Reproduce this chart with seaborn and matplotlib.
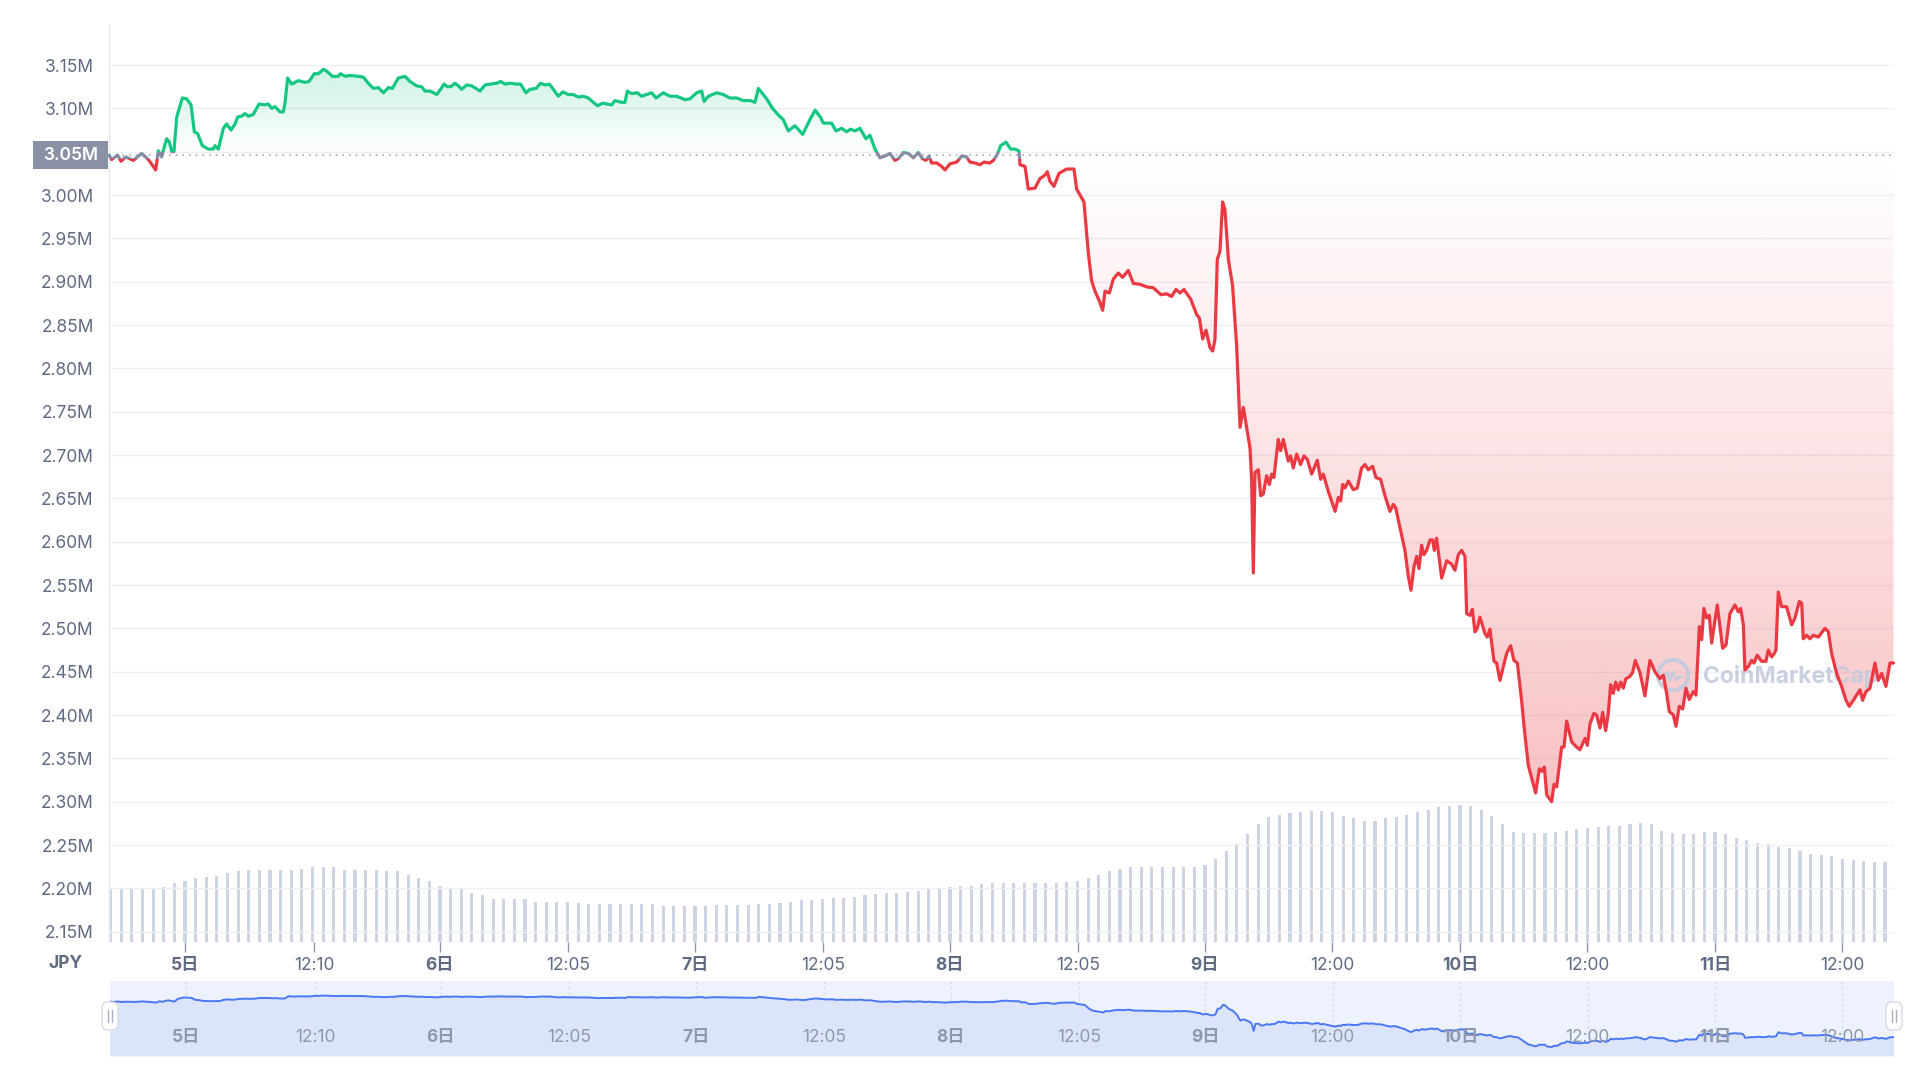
import numpy as np
import pandas as pd
import matplotlib
matplotlib.use("Agg")
import matplotlib.pyplot as plt
import seaborn as sns
import matplotlib.transforms as mtransforms
from matplotlib.path import Path
from matplotlib.patches import PathPatch, Rectangle, FancyBboxPatch, Circle
from matplotlib.colors import LinearSegmentedColormap
from matplotlib.lines import Line2D

# ---------------- data (hours since 5日 00:00, price in million JPY) ----------------
hours = [
    -7.15, -6.90, -6.34, -6.02, -5.58, -4.86, -4.08, -3.45, -2.76, -2.51, -2.20, -1.73, -1.47, -1.25,
    -1.04, -0.78, -0.25, 0.16, 0.57, 0.88, 1.19, 1.63, 2.20, 2.67, 2.82, 3.14, 3.61, 3.92, 4.33, 4.71,
    4.96, 5.33, 5.65, 5.96, 6.43, 6.97, 7.53, 7.84, 8.16, 8.47, 8.94, 9.26, 9.41, 9.66, 10.04, 10.67,
    11.29, 11.67, 12.17, 12.55, 13.02, 13.33, 13.87, 14.43, 14.62, 15.06, 15.53, 16.31, 16.79, 17.25,
    17.73, 18.20, 18.67, 19.14, 19.51, 20.08, 20.71, 21.18, 21.80, 22.28, 22.59,
    23.06, 23.37, 23.69, 24.00, 24.38, 24.69, 25.00, 25.41, 25.73, 26.04, 26.51, 26.98, 27.39, 27.76,
    28.24, 28.71, 29.33, 29.71, 30.12, 30.59, 31.22, 31.59, 32.09, 32.47, 33.04, 33.47, 33.88, 34.29,
    34.67, 35.14, 35.55, 36.08, 36.55, 37.02, 37.49, 37.96, 38.43, 38.84, 39.31, 39.75, 40.16, 40.47,
    41.10, 41.41, 41.63, 42.04, 42.57, 42.98, 43.45, 43.92, 44.33, 45.02, 45.65, 46.27, 47.06, 47.53,
    48.16, 48.63, 48.85, 49.26, 50.04, 50.67, 51.29, 51.92, 52.55, 53.18, 53.65, 53.96,
    54.30, 54.80, 55.30, 55.80,
    56.31, 56.78, 57.41, 58.13, 58.82, 59.30, 59.80, 60.08, 60.86, 61.27, 61.80, 62.27, 62.65, 63.06,
    63.53, 64.09, 64.47, 64.94, 65.41, 65.88, 66.35, 66.82, 67.14, 67.61, 68.08, 68.55, 69.02, 69.40,
    69.74, 70.02, 70.27, 70.75, 71.22, 71.53, 72.00, 72.63, 73.10, 73.57, 73.88, 74.35, 74.82, 75.20,
    75.76, 76.08, 76.46, 76.77, 77.27, 77.71, 78.12, 78.49, 78.59, 79.06, 79.37, 80.00, 80.47, 80.94,
    81.16, 81.41, 81.79, 82.26, 82.98, 83.67, 83.92, 84.61, 85.02, 85.33, 85.65, 86.12,
    86.37, 86.59, 87.00, 87.37, 87.84, 88.25, 88.78, 89.26, 89.88, 90.51, 91.14, 91.86, 92.39, 92.86,
    93.27, 93.65, 94.02, 94.65, 95.22, 95.47, 95.78, 96.10, 96.47, 96.72, 96.94, 97.16, 97.41, 97.66,
    97.88, 98.20, 98.60, 98.98, 99.30, 99.61, 100.24, 100.39, 100.55, 100.71, 101.02, 101.24, 101.49,
    101.80, 102.06, 102.27, 102.49, 102.90, 103.12, 103.37, 103.84, 104.06, 104.31, 104.63, 105.00,
    105.32, 105.63, 106.04, 106.57, 106.89, 107.14, 107.61, 108.24, 108.55, 108.77, 108.96, 109.18,
    109.49, 109.96, 110.34, 110.74, 111.06, 111.37, 111.78, 112.09, 112.53, 112.94, 113.41, 113.73,
    113.95, 114.25,
    114.82, 115.14, 115.39, 115.67, 115.92, 116.14, 116.39, 116.61, 116.86, 117.18, 117.43, 117.58,
    117.80, 118.28, 118.75, 119.22, 119.53, 119.84, 120.16, 120.47, 120.63, 120.94, 121.16, 121.41,
    121.63, 121.88, 122.35, 122.57, 122.82, 123.20, 123.45, 123.76, 124.08, 124.39, 124.77, 125.08,
    125.40, 125.80, 126.02, 126.43, 126.75, 127.12, 127.47, 127.69, 127.94, 128.16, 128.63, 128.85,
    129.10, 129.57, 129.79, 130.04, 130.51, 130.98, 131.29, 131.77, 131.99, 132.24, 132.61, 132.86,
    133.18, 133.43, 133.71, 133.96, 134.18, 134.43, 134.65, 134.90, 135.12, 135.37, 135.62, 135.94,
    136.25, 136.50, 136.94,
    137.41, 137.88, 138.35, 138.82, 139.14, 139.45, 139.70, 140.08, 140.33, 140.64, 140.96, 141.27,
    141.58, 141.96, 142.21, 142.53, 142.75, 142.96, 143.22, 143.47, 143.69, 143.91, 144.22, 144.47,
    144.72, 145.04, 145.41, 145.88, 146.20, 146.42, 146.67, 146.82, 147.14, 147.45, 147.67, 147.98,
    148.39, 148.80, 149.02, 149.33, 149.58, 149.74, 149.96, 150.27, 150.74, 151.22, 151.53, 151.94,
    152.16, 152.31, 152.63, 152.94, 153.26, 153.73, 154.04, 154.35, 154.67, 154.98, 155.45, 155.92,
    156.33, 156.64, 157.02, 157.65, 157.90, 158.21, 158.59, 159.06, 159.37, 159.69, 160.09, 160.47,
    160.80,
]

price = [
    3.046, 3.041, 3.046, 3.039, 3.044, 3.040, 3.048, 3.041, 3.029, 3.051, 3.044, 3.065, 3.061, 3.050,
    3.050, 3.090, 3.112, 3.111, 3.104, 3.073, 3.071, 3.057, 3.053, 3.053, 3.057, 3.053, 3.077, 3.082, 3.075, 3.082,
    3.090, 3.091, 3.094, 3.091, 3.093, 3.105, 3.104, 3.105, 3.100, 3.102, 3.096, 3.096, 3.106, 3.135, 3.128, 3.132,
    3.130, 3.131, 3.140, 3.140, 3.145, 3.143, 3.137, 3.137, 3.140, 3.137, 3.138, 3.137, 3.136, 3.129,
    3.123, 3.124, 3.118, 3.124, 3.123, 3.135, 3.137, 3.131, 3.126, 3.125, 3.120,
    3.120, 3.118, 3.116, 3.121, 3.128, 3.125, 3.125, 3.129, 3.126, 3.122, 3.127, 3.126, 3.123, 3.120,
    3.127, 3.128, 3.129, 3.131, 3.128, 3.129, 3.128, 3.128, 3.118, 3.122, 3.123, 3.129, 3.127, 3.128,
    3.122, 3.114, 3.119, 3.116, 3.116, 3.113, 3.114, 3.112, 3.107, 3.103, 3.106, 3.105, 3.104, 3.109,
    3.107, 3.107, 3.120, 3.117, 3.118, 3.114, 3.116, 3.118, 3.112, 3.118, 3.114, 3.114, 3.110, 3.111,
    3.118, 3.120, 3.108, 3.114, 3.118, 3.116, 3.112, 3.112, 3.109, 3.109, 3.107, 3.123,
    3.118, 3.110, 3.100, 3.093,
    3.087, 3.074, 3.080, 3.070, 3.087, 3.098, 3.090, 3.083, 3.083, 3.074, 3.077, 3.073, 3.076, 3.074,
    3.077, 3.065, 3.069, 3.053, 3.043, 3.045, 3.048, 3.040, 3.042, 3.049, 3.048, 3.043, 3.049, 3.042,
    3.040, 3.045, 3.037, 3.037, 3.033, 3.029, 3.036, 3.038, 3.045, 3.044, 3.038, 3.037, 3.035, 3.038,
    3.037, 3.040, 3.047, 3.057, 3.061, 3.053, 3.053, 3.051, 3.035, 3.033, 3.007, 3.008, 3.019, 3.023,
    3.027, 3.016, 3.010, 3.025, 3.030, 3.030, 3.007, 2.992, 2.933, 2.901, 2.889, 2.876,
    2.867, 2.889, 2.887, 2.903, 2.910, 2.905, 2.913, 2.898, 2.897, 2.894, 2.893, 2.885, 2.886, 2.883,
    2.891, 2.887, 2.891, 2.880, 2.862, 2.858, 2.834, 2.844, 2.824, 2.820, 2.833, 2.926, 2.935, 2.992,
    2.983, 2.926, 2.895, 2.826, 2.732, 2.755, 2.708, 2.672, 2.564, 2.680, 2.683, 2.653, 2.655,
    2.676, 2.666, 2.678, 2.674, 2.718, 2.705, 2.718, 2.693, 2.699, 2.685, 2.701, 2.689,
    2.699, 2.695, 2.678, 2.694, 2.672, 2.678, 2.658, 2.635, 2.651, 2.647, 2.666, 2.662,
    2.670, 2.660, 2.662, 2.685, 2.689, 2.683, 2.687, 2.674, 2.672, 2.653, 2.635, 2.643,
    2.639, 2.622,
    2.590, 2.560, 2.544, 2.571, 2.583, 2.569, 2.596, 2.585, 2.590, 2.602, 2.602, 2.590,
    2.604, 2.558, 2.578, 2.574, 2.567, 2.585, 2.590, 2.583, 2.517, 2.515, 2.522, 2.496,
    2.500, 2.513, 2.494, 2.490, 2.499, 2.462, 2.460, 2.440, 2.456, 2.471, 2.480, 2.463,
    2.460, 2.417, 2.388, 2.342, 2.327, 2.310, 2.338, 2.335, 2.340, 2.308, 2.300, 2.320,
    2.317, 2.363, 2.363, 2.393, 2.369, 2.363, 2.360, 2.373, 2.365, 2.390, 2.402, 2.400,
    2.385, 2.403, 2.382, 2.402, 2.435, 2.425, 2.438, 2.429, 2.438, 2.431, 2.442, 2.444,
    2.449, 2.463, 2.449,
    2.422, 2.463, 2.450, 2.442, 2.446, 2.425, 2.404, 2.400, 2.387, 2.410, 2.407, 2.431,
    2.418, 2.427, 2.423, 2.502, 2.487, 2.523, 2.512, 2.515, 2.483, 2.502, 2.527, 2.502,
    2.477, 2.481, 2.517, 2.527, 2.519, 2.523, 2.504, 2.452, 2.456, 2.463, 2.460, 2.469,
    2.462, 2.462, 2.475, 2.467, 2.471, 2.475, 2.542, 2.525, 2.525, 2.504, 2.512, 2.531,
    2.529, 2.488, 2.492, 2.488, 2.492, 2.490, 2.495, 2.500, 2.496, 2.471, 2.448, 2.433,
    2.417, 2.410, 2.417, 2.429, 2.417, 2.427, 2.431, 2.460, 2.440, 2.448, 2.433, 2.460,
    2.460,
]

# hourly 24h-volume (relative units)
vol_hours = list(range(-7, 161))
volume = [
    43, 43, 43, 43, 43, 45, 48, 50, 52, 53, 54, 56, 58,
    59, 59, 59, 59, 59, 60, 61, 61, 61, 59,
    59, 59, 59, 58, 58, 55, 52, 50, 46, 44, 43, 40, 38,
    35, 35, 35, 35, 33, 33, 33, 33, 32,
    31, 31, 31, 31, 31, 31, 31, 29, 29, 29, 29,
    29, 30, 30, 30, 30, 31, 31, 32, 33, 34, 34, 35,
    36, 36, 37, 38, 39, 40, 40, 41, 42, 43, 44, 45,
    46, 46, 47, 48, 48, 48, 48, 48, 48, 48, 49,
    50, 52, 55, 58, 60, 61, 61, 61, 61, 61, 61, 61, 63,
    68, 74, 80, 88, 96, 102, 104, 105, 106, 107, 107, 106,
    103, 101, 99, 99, 101, 102, 104, 106, 108, 110,
    111, 112, 111, 108, 103, 96, 90, 89, 89, 89, 90, 91,
    92, 93, 94, 95, 95, 96, 97, 96, 91, 89, 88, 88, 90, 90,
    88, 85, 83, 81, 80, 78, 77, 74, 72, 71, 70, 68, 67, 66, 65, 65,
]

tick_hours = [0, 12.17, 24, 36.08, 48, 60.08, 72, 84.08, 96, 108, 120, 132, 144, 156]
tick_labels = ["5日", "12:10", "6日", "12:05", "7日", "12:05", "8日", "12:05",
               "9日", "12:00", "10日", "12:00", "11日", "12:00"]
y_ticks = [2.15, 2.20, 2.25, 2.30, 2.35, 2.40, 2.45, 2.50, 2.55, 2.60, 2.65,
           2.70, 2.75, 2.80, 2.85, 2.90, 2.95, 3.00, 3.05, 3.10, 3.15]
current_label = "3.05M"

# ---------------- styling ----------------
sns.set_theme(style="white")
plt.rcParams["font.family"] = ["Inter", "Noto Sans CJK JP", "DejaVu Sans"]

GREEN = "#16c784"
RED = "#ea3943"
GRAY_LINE = "#858ca2"
TXT = "#5f6b82"
FS = 12.5

W, H = 1920, 1080
def fx(px):
    return px / W
def fy(py):
    return 1 - py / H

fig = plt.figure(figsize=(19.2, 10.8), dpi=100)
rect = [fx(109), fy(942), fx(1894) - fx(109), fy(25) - fy(942)]
ax_vol = fig.add_axes(rect)
ax = fig.add_axes(rect)
ax.patch.set_visible(False)

XMIN, XMAX = -7.153, 160.85
YMIN, YMAX = 2.1381, 3.1962

df = pd.DataFrame({"hour": hours, "price": price})
t = df["hour"].to_numpy()
p = df["price"].to_numpy()
base = p[0]

# volume bars
ax_vol.bar(vol_hours, volume, width=0.3, color="#cdd4e3", linewidth=0)
ax_vol.set_xlim(XMIN, XMAX)
ax_vol.set_ylim(0, 749)
ax_vol.axis("off")

# gradient fills
def gradient_fill(where, y0, y1, rgb, a_bottom, a_top, z):
    poly = ax.fill_between(t, p, base, where=where, interpolate=True,
                           facecolor="none", edgecolor="none", linewidth=0)
    paths = poly.get_paths()
    if not paths:
        return
    cp = Path.make_compound_path(*paths)
    clip = PathPatch(cp, transform=ax.transData, facecolor="none", edgecolor="none")
    ax.add_patch(clip)
    cmap = LinearSegmentedColormap.from_list(
        "g", [(*rgb, a_bottom), (*rgb, a_top)])
    grad = np.linspace(0, 1, 256).reshape(-1, 1)
    im = ax.imshow(grad, extent=[XMIN, XMAX, y0, y1], origin="lower",
                   cmap=cmap, aspect="auto", zorder=z, interpolation="bilinear")
    im.set_clip_path(clip)

gradient_fill(p >= base, base, p.max(), (22/255, 199/255, 132/255), 0.0, 0.21, 1)
gradient_fill(p <= base, p.min(), base, (234/255, 57/255, 67/255), 0.31, 0.0, 1)

# baseline dotted
ax.axhline(base, color="#a3aabb", lw=1.2, ls=(0, (1, 3)), zorder=2)

# price line coloured by side of baseline
eps = 0.004
bands = [(GREEN, base + eps, 10.0), (GRAY_LINE, base - eps, base + eps), (RED, -10.0, base - eps)]
for col, lo, hi in bands:
    sns.lineplot(data=df, x="hour", y="price", ax=ax, color=col, lw=2.3,
                 sort=False, estimator=None, zorder=5)
    ln = ax.lines[-1]
    clip_rect = Rectangle((XMIN - 50, lo), 400, hi - lo, transform=ax.transData)
    ln.set_clip_path(clip_rect)
    ln.set_solid_joinstyle("round")

# watermark
wm_col = "#c3cbde"
ax.text(fx(1703), fy(677), "CoinMarketCap", transform=fig.transFigure, ha="left",
        va="center", fontsize=16.5, fontweight="bold", color=wm_col, alpha=0.9, zorder=3)
ax.add_artist(Circle((16.73, 4.05), 0.15, transform=fig.dpi_scale_trans, fill=False,
                     ec=wm_col, lw=3.0, alpha=0.9, zorder=3))
ax.add_artist(Line2D([16.64, 16.67, 16.70, 16.73, 16.76, 16.79, 16.82],
                     [4.00, 4.08, 4.00, 4.08, 4.00, 4.03, 4.03],
                     transform=fig.dpi_scale_trans, color=wm_col, lw=2.2, alpha=0.9, zorder=3))

# axes cosmetics
ax.set_xlim(XMIN, XMAX)
ax.set_ylim(YMIN, YMAX)
ax.set_xlabel("")
ax.set_ylabel("")
ax.set_yticks(y_ticks)
ax.set_yticklabels(["" if abs(v - 3.05) < 1e-9 else f"{v:.2f}M" for v in y_ticks])
ax.yaxis.grid(True, color="#eef0f4", lw=1.0)
ax.xaxis.grid(False)
ax.set_axisbelow(True)
ax.tick_params(axis="y", length=0, pad=11, labelsize=FS, labelcolor=TXT)
ax.set_xticks(tick_hours)
ax.set_xticklabels(tick_labels)
ax.tick_params(axis="x", length=7, width=1, color="#8e97aa", pad=3.5, labelsize=FS,
               labelcolor=TXT, bottom=True)
for lab in ax.get_xticklabels():
    if "日" in lab.get_text():
        lab.set_fontweight("bold")
for s in ["top", "right", "bottom"]:
    ax.spines[s].set_visible(False)
ax.spines["left"].set_color("#e6e9ef")
ax.spines["left"].set_linewidth(1)

# current price tag
blend = mtransforms.blended_transform_factory(ax.transAxes, ax.transData)
ax.add_patch(Rectangle((-0.04258, base - 0.01615), 0.04202, 0.0323, transform=blend,
                       facecolor="#8a91a4", edgecolor="none", clip_on=False, zorder=10))
ax.text(-0.02157, base, current_label, transform=blend, ha="center", va="center",
        color="white", fontsize=FS, fontweight="semibold", zorder=11, clip_on=False)

fig.text(fx(65), fy(963), "JPY", ha="center", va="center", fontsize=FS,
         fontweight="bold", color=TXT)

# navigator
ax_nav = fig.add_axes([fx(110), fy(1056), fx(1894) - fx(110), fy(981) - fy(1056)])
NYMIN, NYMAX = 2.152, 3.384
ax_nav.set_facecolor("#eef2fe")
ax_nav.fill_between(t, p, NYMIN, color="#dce4fc", lw=0)
sns.lineplot(data=df, x="hour", y="price", ax=ax_nav, color="#4a78f5", lw=1.4,
             sort=False, estimator=None)
ax_nav.set_xlim(XMIN, XMAX)
ax_nav.set_ylim(NYMIN, NYMAX)
ax_nav.set_xticks(tick_hours)
ax_nav.set_yticks([])
ax_nav.xaxis.grid(True, color="#d3dbf5", lw=1, ls=(0, (2, 2)))
ax_nav.tick_params(axis="x", length=0, labelbottom=False)
ax_nav.set_xlabel("")
ax_nav.set_ylabel("")
for s in ax_nav.spines.values():
    s.set_visible(False)
for th, tl in zip(tick_hours, tick_labels):
    ax_nav.text(th, 0.25, tl, transform=ax_nav.get_xaxis_transform(), ha="center",
                va="center", fontsize=FS, color="#8f98ad",
                fontweight="bold" if "日" in tl else "normal")

# navigator handles
for xc in (1.10, 18.94):
    fig.add_artist(FancyBboxPatch((xc - 0.08, 0.50), 0.16, 0.28,
                                  boxstyle="round,pad=0,rounding_size=0.06",
                                  transform=fig.dpi_scale_trans, facecolor="white",
                                  edgecolor="#d6dae3", lw=1.0, zorder=5))
    for dx in (-0.018, 0.018):
        fig.add_artist(Line2D([xc + dx, xc + dx], [0.58, 0.70], transform=fig.dpi_scale_trans,
                              color="#a7aebd", lw=1.0, zorder=6))

fig.savefig("out.png", dpi=100)
